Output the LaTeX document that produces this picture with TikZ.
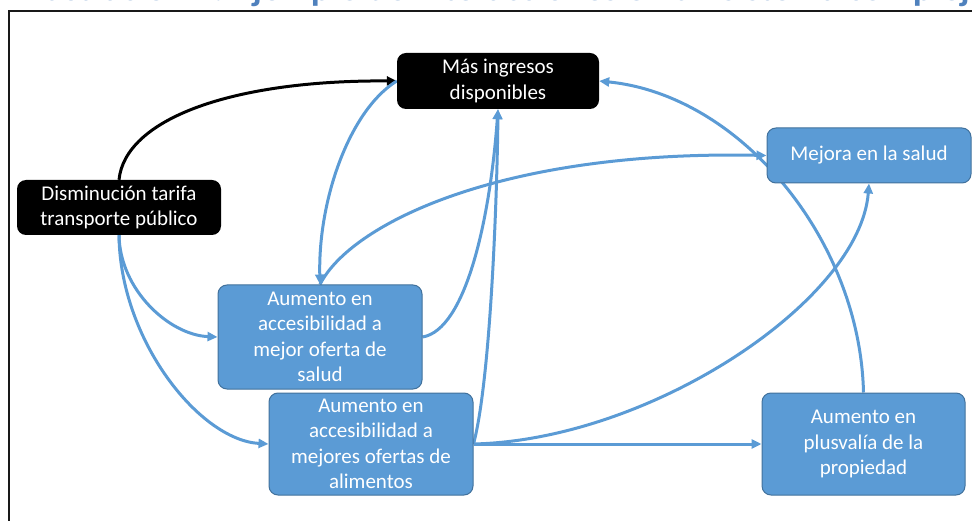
\documentclass[tikz,border=0pt]{standalone}
\usepackage{fontspec}
\setmainfont{Carlito}
\usetikzlibrary{arrows.meta}
\definecolor{boxblue}{HTML}{5B9BD5}
\definecolor{boxedge}{HTML}{41719C}
\definecolor{titleblue}{HTML}{4F81BD}
\pgfdeclarelayer{background}
\pgfsetlayers{background,main}
\tikzset{
  box/.style={rounded corners=9pt, inner sep=0pt, align=center, text=white,
    font=\fontsize{21}{25.5}\selectfont},
  darkbox/.style={box, fill=black},
  bluebox/.style={box, fill=boxblue, draw=boxedge, line width=1pt},
  link/.style={draw=boxblue, line width=3pt, -{Triangle[length=10pt,width=9pt]}},
  blacklink/.style={draw=black, line width=3pt, -{Triangle[length=10pt,width=9pt]}},
}
\begin{document}
\begin{tikzpicture}[x=1pt, y=-1pt]
\useasboundingbox (0,0) rectangle (972,521);
\clip (0,0) rectangle (972,521);

% caption, cut by the top edge
\node[anchor=base west, inner sep=0pt, text=titleblue,
  font=\bfseries\fontsize{37}{40}\selectfont] (title) at (25,1)
  {Ilustración 1: Ejemplo de interacciones en un sistema complejo};

% frame
\draw[black!90, line width=2.5pt] (9,540) -- (9,11) -- (990,11);

% boxes
\node[darkbox, minimum width=202pt, minimum height=56pt] (mas) at (498,81)
  {Más ingresos\\disponibles};
\node[darkbox, minimum width=204pt, minimum height=55pt] (dis) at (119,207.5)
  {Disminución tarifa\\transporte público};
\node[bluebox, minimum width=204pt, minimum height=55pt] (mej) at (869,155.5)
  {Mejora en la salud};
\node[bluebox, minimum width=204pt, minimum height=104pt] (sal) at (320,337)
  {Aumento en\\accesibilidad a\\mejor oferta de\\salud};
\node[bluebox, minimum width=204pt, minimum height=102pt] (ali) at (371,444)
  {Aumento en\\accesibilidad a\\mejores ofertas de\\alimentos};
\node[bluebox, minimum width=203pt, minimum height=102pt] (plu) at (863.5,444)
  {Aumento en\\plusvalía de la\\propiedad};

% connectors, drawn beneath the boxes
\begin{pgfonlayer}{background}
\draw[blacklink] (dis.north) .. controls +(6,-60) and +(-167,-1) .. (mas.west);
\draw[link] (dis.south) .. controls +(1,55) and +(-48,-2) .. (sal.west);
\draw[link] (dis.south) .. controls +(1,105) and +(-69,-4) .. (ali.west);
\draw[link] (mas.west) .. controls +(-47,29) and +(-2,-85) .. (sal.north);
\draw[link] (sal.north) .. controls +(30,-60) and +(-267,-5.5) .. (mej.west);
\draw[link] (sal.east) .. controls +(43,-7) and +(-8,111) .. (mas.south);
\draw[link] (ali.east) .. controls +(17,-64) and +(-1,91) .. (mas.south);
\draw[link] (ali.east) -- (plu.west);
\draw[link] (ali.east) .. controls +(177,-4) and +(-9,117) .. (mej.south);
\draw[link] (plu.north) .. controls +(-3.5,-153) and +(141,14) .. (mas.east);
\end{pgfonlayer}
\end{tikzpicture}
\end{document}
